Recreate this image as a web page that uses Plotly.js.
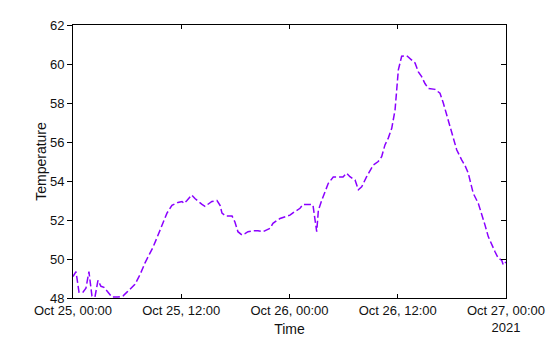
<!DOCTYPE html>
<html>
<head>
<meta charset="utf-8">
<script src="https://cdn.plot.ly/plotly-3.0.1.min.js"></script>
<style>html,body{margin:0;padding:0;background:#fff;}#chart{width:560px;height:337px;}</style>
</head>
<body>
<div id="chart"></div>
<script>
var times = [
"2021-10-25 00:00","2021-10-25 00:20","2021-10-25 00:40","2021-10-25 01:06","2021-10-25 01:26",
"2021-10-25 01:46","2021-10-25 02:06","2021-10-25 02:26","2021-10-25 02:46","2021-10-25 03:06",
"2021-10-25 03:26","2021-10-25 03:53","2021-10-25 04:19","2021-10-25 04:59","2021-10-25 05:32",
"2021-10-25 05:59","2021-10-25 06:26","2021-10-25 06:52","2021-10-25 07:26","2021-10-25 07:59",
"2021-10-25 08:32","2021-10-25 08:52","2021-10-25 09:19","2021-10-25 09:52","2021-10-25 10:25",
"2021-10-25 10:58","2021-10-25 11:38","2021-10-25 12:05","2021-10-25 12:18","2021-10-25 12:38",
"2021-10-25 13:09","2021-10-25 13:31","2021-10-25 13:51","2021-10-25 14:18","2021-10-25 14:38",
"2021-10-25 14:58","2021-10-25 15:24","2021-10-25 15:58","2021-10-25 16:18","2021-10-25 16:31",
"2021-10-25 16:58","2021-10-25 17:38","2021-10-25 17:57","2021-10-25 18:17","2021-10-25 18:44",
"2021-10-25 19:04","2021-10-25 19:24","2021-10-25 19:57","2021-10-25 20:30","2021-10-25 21:04",
"2021-10-25 21:50","2021-10-25 22:10","2021-10-25 22:57","2021-10-26 00:03","2021-10-26 00:23",
"2021-10-26 01:10","2021-10-26 01:30","2021-10-26 02:16","2021-10-26 02:36","2021-10-26 03:01",
"2021-10-26 03:12","2021-10-26 03:34","2021-10-26 03:56","2021-10-26 04:18","2021-10-26 04:51",
"2021-10-26 05:56","2021-10-26 06:20","2021-10-26 06:42","2021-10-26 07:16","2021-10-26 07:38",
"2021-10-26 08:00","2021-10-26 08:33","2021-10-26 09:17","2021-10-26 09:50","2021-10-26 10:13",
"2021-10-26 10:35","2021-10-26 10:57","2021-10-26 11:20","2021-10-26 11:42","2021-10-26 11:53",
"2021-10-26 12:04","2021-10-26 12:26","2021-10-26 12:59","2021-10-26 13:33","2021-10-26 13:55",
"2021-10-26 14:17","2021-10-26 14:39","2021-10-26 15:01","2021-10-26 15:23","2021-10-26 16:08",
"2021-10-26 16:41","2021-10-26 17:03","2021-10-26 17:25","2021-10-26 17:48","2021-10-26 18:10",
"2021-10-26 18:32","2021-10-26 19:05","2021-10-26 19:27","2021-10-26 19:49","2021-10-26 20:22",
"2021-10-26 20:56","2021-10-26 21:18","2021-10-26 21:40","2021-10-26 22:02","2021-10-26 22:25",
"2021-10-26 22:47","2021-10-26 23:09","2021-10-26 23:31","2021-10-26 23:42","2021-10-27 00:00"
];
var temperature = [
49.1,49.35,48.3,48.3,48.5,
49.35,48.1,48.05,48.9,48.6,
48.55,48.3,48.05,48.05,48.1,
48.3,48.5,48.7,49.2,49.8,
50.3,50.6,51.1,51.75,52.35,
52.75,52.9,52.95,52.85,53.0,
53.28,53.1,52.95,52.8,52.7,
52.8,52.95,53.0,52.75,52.35,
52.2,52.2,51.9,51.4,51.23,
51.3,51.4,51.45,51.45,51.4,
51.57,51.83,52.08,52.25,52.37,
52.6,52.8,52.8,52.77,51.4,
52.5,53.0,53.45,53.88,54.2,
54.2,54.4,54.22,54.05,53.55,
53.7,54.22,54.82,55.0,55.25,
55.85,56.2,56.7,57.64,58.67,
59.7,60.4,60.43,60.2,60.05,
59.6,59.35,59.0,58.75,58.7,
58.5,58.0,57.4,56.7,56.1,
55.6,55.08,54.8,54.4,53.37,
52.85,52.35,51.75,51.15,50.7,
50.37,50.03,49.95,49.7,49.85
];
var xTickVals = ["2021-10-25 00:00","2021-10-25 12:00","2021-10-26 00:00","2021-10-26 12:00","2021-10-27 00:00"];
var xTickText = ["Oct 25, 00:00","Oct 25, 12:00","Oct 26, 00:00","Oct 26, 12:00","Oct 27, 00:00<br>2021"];
var yTickVals = [48,50,52,54,56,58,60,62];

var fnt = {family: "Liberation Sans, Arial, sans-serif", size: 13, color: "#111"};
var tfnt = {family: "Liberation Sans, Arial, sans-serif", size: 14, color: "#111"};
var data = [
  {x: times, y: temperature, type: "scatter", mode: "lines",
   line: {color: "#8a00ff", width: 1.5, dash: "7px,3px"}, showlegend: false},
  {x: times, y: temperature, type: "scatter", mode: "lines", yaxis: "y2",
   line: {color: "rgba(0,0,0,0)", width: 0}, hoverinfo: "skip", showlegend: false}
];
var layout = {
  width: 560, height: 337,
  margin: {l: 73, r: 54, t: 25, b: 39},
  paper_bgcolor: "#fff", plot_bgcolor: "#fff",
  font: fnt,
  xaxis: {
    type: "date", range: ["2021-10-25 00:00", "2021-10-27 00:00"],
    tickvals: xTickVals, ticktext: xTickText,
    ticks: "inside", ticklen: 4, tickwidth: 1, tickcolor: "#000",
    showline: true, linecolor: "#000", linewidth: 1, mirror: "ticks",
    showgrid: false, zeroline: false, tickfont: fnt,
    title: {text: "Time", font: tfnt, standoff: 1}
  },
  yaxis: {
    range: [48, 62], tickvals: yTickVals,
    ticks: "outside", ticklen: 5, tickwidth: 1, tickcolor: "#000",
    showline: true, linecolor: "#000", linewidth: 1, mirror: true,
    showgrid: false, zeroline: false, tickfont: fnt,
    title: {text: "Temperature", font: tfnt, standoff: 0}
  },
  yaxis2: {
    overlaying: "y", side: "right", range: [48, 62], tickvals: yTickVals,
    ticks: "inside", ticklen: 5, tickwidth: 1, tickcolor: "#000",
    showticklabels: false, showline: true, linecolor: "#000",
    showgrid: false, zeroline: false
  }
};
Plotly.newPlot("chart", data, layout, {staticPlot: true, displayModeBar: false});
</script>
</body>
</html>
